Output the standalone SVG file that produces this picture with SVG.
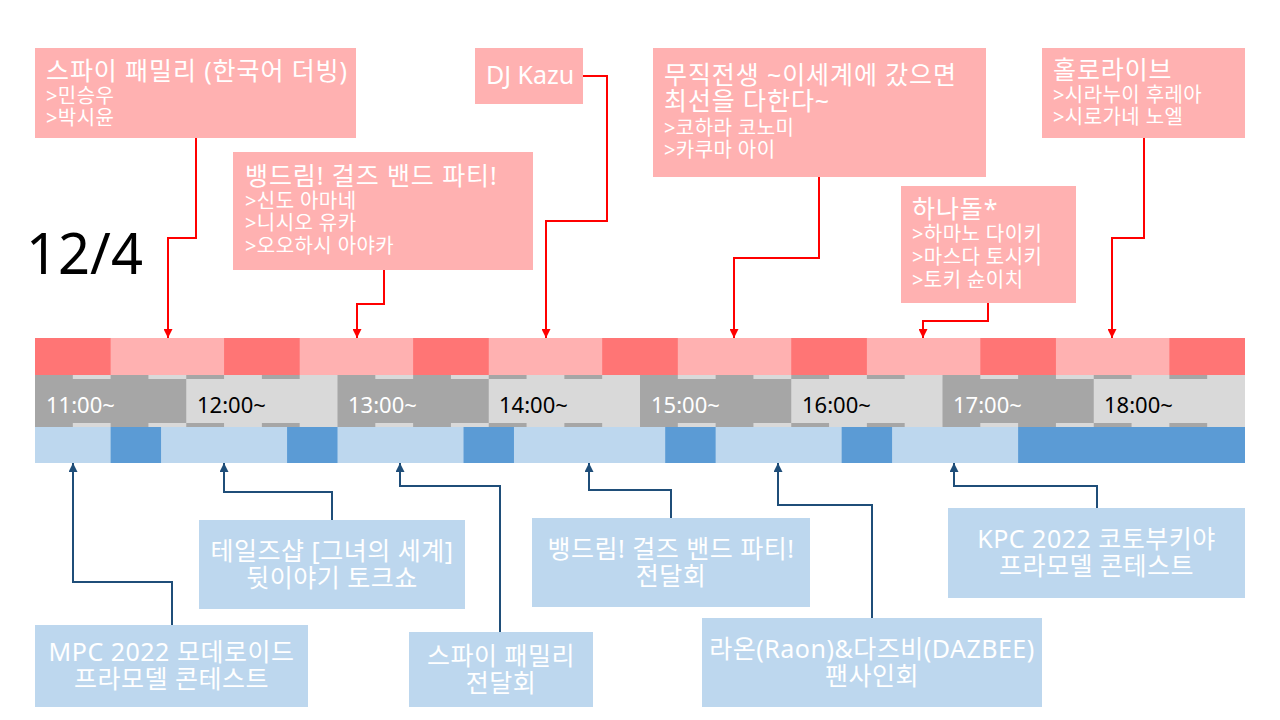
<svg xmlns="http://www.w3.org/2000/svg" width="1280" height="720" viewBox="0 0 1280 720">
<style>
text{font-family:"Noto Sans","Noto Sans CJK KR",sans-serif;}
.top{fill:#FFB1B1;}
.bot{fill:#BDD7EE;}
.tt{font-size:25px;fill:#FFFFFF;letter-spacing:0.9px;}
.ts{font-size:20px;fill:#FFFFFF;letter-spacing:0.4px;}
.bt{font-size:25px;fill:#FFFFFF;text-anchor:middle;letter-spacing:0.5px;}
.hr{font-size:22px;}
.w{fill:#FFFFFF;}
.k{fill:#000000;}
.rc{fill:none;stroke:#FF0000;stroke-width:2;}
.bc{fill:none;stroke:#1F4E79;stroke-width:2;}
</style>
<defs>
<marker id="ar" viewBox="0 0 10 10" refX="10" refY="5" markerWidth="9" markerHeight="9" markerUnits="userSpaceOnUse" orient="auto"><path d="M0,0 L10,5 L0,10 z" fill="#FF0000"/></marker>
<marker id="ab" viewBox="0 0 10 10" refX="10" refY="5" markerWidth="9" markerHeight="9" markerUnits="userSpaceOnUse" orient="auto"><path d="M0,0 L10,5 L0,10 z" fill="#1F4E79"/></marker>
<pattern id="q" x="35" y="0" width="75.625" height="720" patternUnits="userSpaceOnUse"><rect width="37.8125" height="720" fill="#A6A6A6"/><rect x="37.8125" width="37.8125" height="720" fill="#D9D9D9"/></pattern>
</defs>

<text x="26" y="274" font-size="56" fill="#000000">12/4</text>

<g id="timeline">
<g id="red-row">
<rect x="35" y="338" width="1210" height="37" fill="#FF7575"/>
<rect x="110.63" y="338" width="113.44" height="37" fill="#FFB1B1"/>
<rect x="299.69" y="338" width="113.44" height="37" fill="#FFB1B1"/>
<rect x="488.75" y="338" width="113.44" height="37" fill="#FFB1B1"/>
<rect x="677.81" y="338" width="113.44" height="37" fill="#FFB1B1"/>
<rect x="866.88" y="338" width="113.44" height="37" fill="#FFB1B1"/>
<rect x="1055.94" y="338" width="113.44" height="37" fill="#FFB1B1"/>
</g>
<g id="gray-row">
<rect x="35" y="375" width="1210" height="52" fill="#D9D9D9"/>
<rect x="35" y="375" width="151.25" height="52" fill="#A6A6A6"/>
<rect x="337.5" y="375" width="151.25" height="52" fill="#A6A6A6"/>
<rect x="640" y="375" width="151.25" height="52" fill="#A6A6A6"/>
<rect x="942.5" y="375" width="151.25" height="52" fill="#A6A6A6"/>
<rect x="35" y="375" width="1210" height="4" fill="url(#q)"/>
<rect x="35" y="423" width="1210" height="4" fill="url(#q)"/>
<text class="hr w" x="46" y="413">11:00~</text>
<text class="hr k" x="197" y="413">12:00~</text>
<text class="hr w" x="348" y="413">13:00~</text>
<text class="hr k" x="499" y="413">14:00~</text>
<text class="hr w" x="651" y="413">15:00~</text>
<text class="hr k" x="802" y="413">16:00~</text>
<text class="hr w" x="953" y="413">17:00~</text>
<text class="hr k" x="1104" y="413">18:00~</text>
</g>
<g id="blue-row">
<rect x="35" y="427" width="1210" height="36" fill="#BDD7EE"/>
<rect x="110.63" y="427" width="50.41" height="36" fill="#5B9BD5"/>
<rect x="287.08" y="427" width="50.42" height="36" fill="#5B9BD5"/>
<rect x="463.54" y="427" width="50.42" height="36" fill="#5B9BD5"/>
<rect x="665.21" y="427" width="50.42" height="36" fill="#5B9BD5"/>
<rect x="841.67" y="427" width="50.41" height="36" fill="#5B9BD5"/>
<rect x="1018.13" y="427" width="226.87" height="36" fill="#5B9BD5"/>
</g>
</g>

<g id="connectors">
<path class="rc" d="M196,138 V238 H168 V338" marker-end="url(#ar)"/>
<path class="rc" d="M384,270 V304 H357 V338" marker-end="url(#ar)"/>
<path class="rc" d="M583,76 H607 V221 H546 V338" marker-end="url(#ar)"/>
<path class="rc" d="M819,177 V258 H734 V338" marker-end="url(#ar)"/>
<path class="rc" d="M988,303 V321 H923 V338" marker-end="url(#ar)"/>
<path class="rc" d="M1144,138 V238 H1112 V338" marker-end="url(#ar)"/>
<path class="bc" d="M172,625 V582 H73 V463" marker-end="url(#ab)"/>
<path class="bc" d="M332,520 V492 H224 V463" marker-end="url(#ab)"/>
<path class="bc" d="M500,632 V486 H400 V463" marker-end="url(#ab)"/>
<path class="bc" d="M671,518 V490 H589 V463" marker-end="url(#ab)"/>
<path class="bc" d="M872,618 V505 H778 V463" marker-end="url(#ab)"/>
<path class="bc" d="M1097,508 V486 H954 V463" marker-end="url(#ab)"/>
</g>

<g id="spy-family-dub">
<rect class="top" x="35" y="48" width="321" height="90"/>
<text class="tt" x="46" y="80">스파이 패밀리 (한국어 더빙)</text>
<text class="ts" x="46" y="102.5">&gt;민승우</text>
<text class="ts" x="46" y="125">&gt;박시윤</text>
</g>
<g id="bangdream-top">
<rect class="top" x="233" y="152" width="300" height="118"/>
<text class="tt" x="245" y="184.5">뱅드림! 걸즈 밴드 파티!</text>
<text class="ts" x="245" y="207.5">&gt;신도 아마네</text>
<text class="ts" x="245" y="230">&gt;니시오 유카</text>
<text class="ts" x="245" y="252.5">&gt;오오하시 아야카</text>
</g>
<g id="dj-kazu">
<rect class="top" x="475" y="48" width="108" height="56"/>
<text class="tt" x="486" y="84" style="letter-spacing:0">DJ Kazu</text>
</g>
<g id="mushoku">
<rect class="top" x="653" y="48" width="333" height="129"/>
<text class="tt" x="664" y="83.5">무직전생 ~이세계에 갔으면</text>
<text class="tt" x="664" y="109.5">최선을 다한다~</text>
<text class="ts" x="664" y="134.5">&gt;코하라 코노미</text>
<text class="ts" x="664" y="156.5">&gt;카쿠마 아이</text>
</g>
<g id="hanadol">
<rect class="top" x="901" y="186" width="175" height="117"/>
<text class="tt" x="912" y="217.5">하나돌*</text>
<text class="ts" x="912" y="241">&gt;하마노 다이키</text>
<text class="ts" x="912" y="264">&gt;마스다 토시키</text>
<text class="ts" x="912" y="286.5">&gt;토키 슌이치</text>
</g>
<g id="hololive">
<rect class="top" x="1042" y="48" width="203" height="90"/>
<text class="tt" x="1053" y="79">홀로라이브</text>
<text class="ts" x="1053" y="101.5">&gt;시라누이 후레아</text>
<text class="ts" x="1053" y="124">&gt;시로가네 노엘</text>
</g>

<g id="mpc-2022">
<rect class="bot" x="35" y="625" width="273" height="82"/>
<text class="bt" x="171.5" y="661">MPC 2022 모데로이드</text>
<text class="bt" x="171.5" y="688">프라모델 콘테스트</text>
</g>
<g id="talesshop">
<rect class="bot" x="199" y="520" width="266" height="89"/>
<text class="bt" x="332" y="559.5">테일즈샵 [그녀의 세계]</text>
<text class="bt" x="332" y="586.5">뒷이야기 토크쇼</text>
</g>
<g id="spy-family-event">
<rect class="bot" x="409" y="632" width="184" height="75"/>
<text class="bt" x="501" y="664.5">스파이 패밀리</text>
<text class="bt" x="501" y="691.5">전달회</text>
</g>
<g id="bangdream-event">
<rect class="bot" x="532" y="518" width="278" height="89"/>
<text class="bt" x="671" y="557.5">뱅드림! 걸즈 밴드 파티!</text>
<text class="bt" x="671" y="584.5">전달회</text>
</g>
<g id="raon-dazbee">
<rect class="bot" x="702" y="618" width="340" height="89"/>
<text class="bt" x="872" y="657.5">라온(Raon)&amp;다즈비(DAZBEE)</text>
<text class="bt" x="872" y="684.5">팬사인회</text>
</g>
<g id="kpc-2022">
<rect class="bot" x="948" y="508" width="297" height="90"/>
<text class="bt" x="1096.5" y="548">KPC 2022 코토부키야</text>
<text class="bt" x="1096.5" y="575">프라모델 콘테스트</text>
</g>
</svg>
